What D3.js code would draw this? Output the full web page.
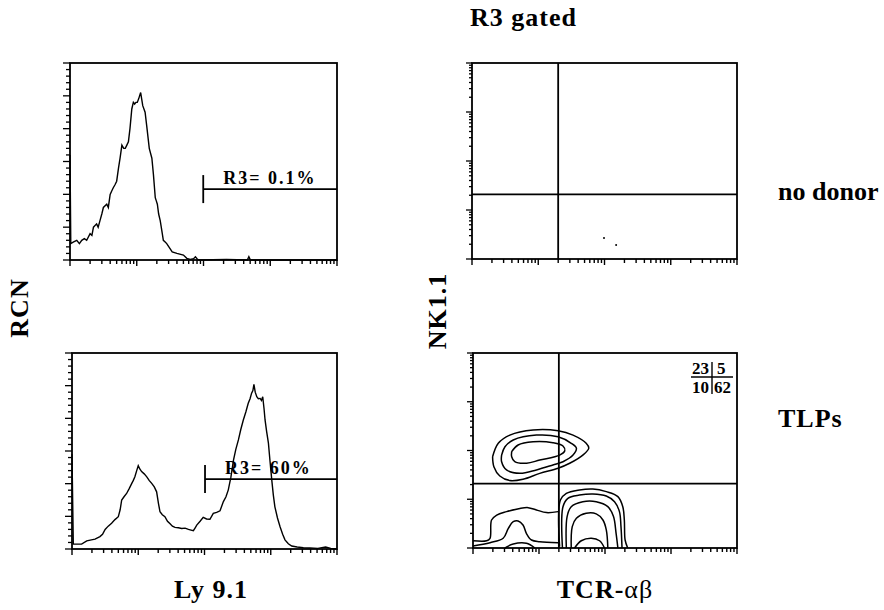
<!DOCTYPE html>
<html>
<head>
<meta charset="utf-8">
<script src="https://cdn.jsdelivr.net/npm/d3@7"></script>
<style>
  body { margin: 0; background: #fff; }
  svg { display: block; font-family: "Liberation Serif", "Times New Roman", serif; font-weight: bold; }
</style>
</head>
<body>
<svg id="chart" width="884" height="610"></svg>
<script>
// histogram data: [channel (0-1023, 4 log decades), relative cell number]
const histNoDonor = [
  [0, 32], [3, 5], [14, 5.5], [26, 6], [36, 5], [45, 6], [55, 6.5], [64, 6], [77, 8], [84, 7.5], [90, 10],
  [102, 11], [108, 10], [115, 12], [122, 14], [128, 16], [141, 17], [147, 16], [154, 20], [160, 21],
  [166, 22], [173, 23], [179, 24], [186, 28], [192, 31], [199, 35], [206, 34], [212, 34], [218, 35],
  [224, 36], [230, 40], [237, 46], [243, 48], [248, 47.5], [253, 48], [258, 48], [263, 49], [271, 51],
  [275, 49], [279, 47], [288, 45], [294, 41], [304, 34], [314, 31], [320, 26], [327, 19], [331, 18],
  [335, 17], [340, 14], [346, 12], [352, 9], [358, 6], [365, 5.5], [371, 5], [392, 2.5], [410, 2],
  [435, 1.5], [448, 0.5], [461, 0.2], [474, 0.4], [481, 1], [488, 0.3], [494, 0], [600, 0.2], [680, 0],
  [686, 1], [692, 0], [1023, 0]
];
const histTLP = [
  [0, 29], [5, 1.5], [37, 1.5], [57, 2.5], [75, 2.8], [89, 3], [108, 3.8], [118, 4.5], [128, 6], [140, 7],
  [153, 7.9], [166, 9], [179, 9.9], [186, 12], [192, 15], [201, 16], [211, 17], [221, 18.5], [231, 20.1],
  [237, 21], [243, 22.1], [250, 24], [256, 25.5], [262, 24.5], [269, 23.7], [279, 23], [289, 22.1],
  [298, 21], [308, 20.1], [318, 19], [327, 17.5], [334, 14], [340, 11.4], [349, 10.5], [359, 9.9],
  [369, 8.5], [379, 7.7], [388, 7], [398, 6.6], [411, 6.5], [424, 6.3], [437, 6.4], [450, 6],
  [460, 5.8], [469, 5.6], [476, 6.5], [482, 7.3], [495, 8.5], [507, 9.7], [520, 9.2], [533, 9.1],
  [546, 10.9], [559, 11.2], [572, 11.7], [585, 14.5], [595, 16], [604, 18.1], [614, 22], [624, 27.2],
  [633, 30.5], [643, 33.4], [652, 36.5], [662, 39.5], [672, 42], [681, 44.6], [688, 46], [694, 47.7],
  [699, 48.5], [703, 50.4], [708, 48], [714, 46.6], [720, 46], [727, 46.1], [732, 45.5], [737, 46.6],
  [742, 43], [746, 39.5], [752, 36], [759, 32.4], [765, 27], [772, 21.1], [778, 16.5], [784, 12.9],
  [794, 9.5], [804, 6.8], [814, 4.5], [823, 2.8], [836, 1.6], [849, 0.9], [870, 0.6], [894, 0.4],
  [920, 0.3], [950, 0.2], [980, 0.6], [1000, 0.2], [1023, 0]
];
const gateLabels = ["R3= 0.1%", "R3= 60%"];
const gateStart = [511, 514];      // channel
const gateLevel = [21.6, 21.4];    // cell number

// dot plot / contour data: [TCR-ab channel, NK1.1 channel]
const quadX = 333, quadY = 338;
const quadPercents = [23, 5, 10, 62];
const noDonorDots = [[510, 110], [557, 73]];
const tlpContours = [
  // NK1.1+ TCR- cluster
  [[76, 479], [98, 550], [143, 593], [233, 620], [330, 616], [388, 593], [439, 550], [449, 524], [426, 488],
   [375, 445], [330, 419], [259, 392], [194, 361], [143, 354], [104, 378], [81, 427], [76, 479]],
  [[111, 488], [124, 532], [156, 567], [246, 593], [330, 584], [381, 550], [401, 524], [388, 488],
   [349, 453], [310, 436], [246, 410], [182, 392], [130, 410], [111, 453], [111, 488]],
  [[150, 506], [175, 541], [233, 558], [310, 553], [349, 536], [356, 511], [336, 488], [259, 462],
   [208, 445], [162, 453], [150, 479], [150, 506]],
  // double negative cluster
  [[0, 38], [53, 38], [66, 51], [72, 147], [92, 173], [130, 191], [182, 208], [214, 212], [246, 200],
   [285, 186], [330, 191]],
  [[0, 11], [66, 28], [117, 51], [137, 103], [156, 138], [175, 142], [194, 121], [207, 77], [227, 42],
   [259, 33], [330, 28]],
  [[124, 0], [156, 21], [207, 25], [240, 0]],
  // TCR+ NK1.1- cluster
  [[336, 7], [339, 252], [362, 287], [413, 305], [465, 310], [517, 296], [562, 270], [581, 217],
   [587, 147], [590, 42], [600, 0]],
  [[347, 0], [349, 217], [368, 261], [413, 278], [465, 284], [517, 273], [549, 243], [568, 191],
   [574, 112], [578, 0]],
  [[362, 0], [365, 165], [381, 217], [426, 243], [478, 243], [523, 217], [545, 165], [555, 77], [562, 0]],
  [[381, 0], [385, 112], [401, 156], [439, 182], [478, 179], [504, 147], [517, 95], [523, 0]],
  [[394, 0], [420, 38], [459, 51], [491, 38], [510, 0]]
];

const svg = d3.select("#chart");

// log-decade tick positions in channel units
const logTicks = [];
for (let d = 0; d < 4; d++) {
  for (let k = 1; k < 10; k++) logTicks.push({ ch: 256 * (d + Math.log10(k)), major: k === 1 });
}
logTicks.push({ ch: 1024, major: true });

function panel(box) {
  const g = svg.append("g");
  const x = d3.scaleLinear().domain([0, 1024]).range([box.l, box.r]);
  g.append("rect")
    .attr("x", box.l).attr("y", box.t)
    .attr("width", box.r - box.l).attr("height", box.b - box.t)
    .attr("fill", "none").attr("stroke", "#000").attr("stroke-width", 1.8);
  g.selectAll(".xt").data(logTicks).join("line")
    .attr("x1", d => x(d.ch)).attr("x2", d => x(d.ch))
    .attr("y1", box.b).attr("y2", d => box.b + (d.major ? 6 : 4))
    .attr("stroke", "#000").attr("stroke-width", 1.4);
  return { g, x };
}

function histPanel(box, data, gi) {
  const { g, x } = panel(box);
  const y = d3.scaleLinear().domain([0, 60]).range([box.b, box.t]);
  const yt = d3.range(0, 61, 2);
  g.selectAll(".yt").data(yt).join("line")
    .attr("x1", d => box.l - (d % 10 === 0 ? 7 : 4)).attr("x2", box.l)
    .attr("y1", d => y(d)).attr("y2", d => y(d))
    .attr("stroke", "#000").attr("stroke-width", 1.3);
  g.append("path")
    .datum(data)
    .attr("d", d3.line().x(d => x(d[0])).y(d => y(d[1])))
    .attr("fill", "none").attr("stroke", "#000").attr("stroke-width", 1.4);
  // gate marker
  const gx = x(gateStart[gi]), gy = y(gateLevel[gi]);
  g.append("line").attr("x1", gx).attr("x2", gx).attr("y1", gy - 14).attr("y2", gy + 14)
    .attr("stroke", "#000").attr("stroke-width", 1.8);
  g.append("line").attr("x1", gx).attr("x2", box.r).attr("y1", gy).attr("y2", gy)
    .attr("stroke", "#000").attr("stroke-width", 1.6);
  g.append("text").attr("x", gx + 20).attr("y", gy - 5)
    .attr("font-size", 18).attr("letter-spacing", 2).text(gateLabels[gi]);
}

function dotPanel(box) {
  const { g, x } = panel(box);
  const y = d3.scaleLinear().domain([0, 1024]).range([box.b, box.t]);
  g.selectAll(".yt").data(logTicks).join("line")
    .attr("x1", d => box.l - (d.major ? 6 : 3)).attr("x2", box.l)
    .attr("y1", d => y(d.ch)).attr("y2", d => y(d.ch))
    .attr("stroke", "#000").attr("stroke-width", 1.3);
  g.append("line").attr("x1", x(quadX)).attr("x2", x(quadX)).attr("y1", box.t).attr("y2", box.b)
    .attr("stroke", "#000").attr("stroke-width", 1.8);
  g.append("line").attr("x1", box.l).attr("x2", box.r).attr("y1", y(quadY)).attr("y2", y(quadY))
    .attr("stroke", "#000").attr("stroke-width", 1.8);
  return { g, x, y };
}

histPanel({ l: 70, r: 337, t: 63, b: 260 }, histNoDonor, 0);
histPanel({ l: 72, r: 337, t: 353, b: 549 }, histTLP, 1);

const dotTop = dotPanel({ l: 472, r: 737, t: 63, b: 259 });
dotTop.g.selectAll("circle").data(noDonorDots).join("circle")
  .attr("cx", d => dotTop.x(d[0])).attr("cy", d => dotTop.y(d[1])).attr("r", 1).attr("fill", "#000");

const dotBot = dotPanel({ l: 473, r: 737, t: 353, b: 548 });
dotBot.g.selectAll(".ct").data(tlpContours).join("path")
  .attr("d", d3.line().x(d => dotBot.x(d[0])).y(d => dotBot.y(d[1])).curve(d3.curveCatmullRom))
  .attr("fill", "none").attr("stroke", "#000").attr("stroke-width", 1.5);

// quadrant percentages
const q = dotBot.g.append("g").attr("font-size", 17);
q.append("text").attr("x", 709).attr("y", 374).attr("text-anchor", "end").text(quadPercents[0]);
q.append("text").attr("x", 717).attr("y", 374).text(quadPercents[1]);
q.append("text").attr("x", 709).attr("y", 393).attr("text-anchor", "end").text(quadPercents[2]);
q.append("text").attr("x", 714).attr("y", 393).text(quadPercents[3]);
q.append("line").attr("x1", 691).attr("x2", 733).attr("y1", 377).attr("y2", 377).attr("stroke", "#000").attr("stroke-width", 1.4);
q.append("line").attr("x1", 712).attr("x2", 712).attr("y1", 362).attr("y2", 394).attr("stroke", "#000").attr("stroke-width", 1.4);

// titles and axis labels
const lab = svg.append("g").attr("font-size", 26);
lab.append("text").attr("x", 470).attr("y", 26).attr("letter-spacing", 1).text("R3 gated");
lab.append("text").attr("x", 778).attr("y", 200).text("no donor");
lab.append("text").attr("x", 778).attr("y", 427).attr("letter-spacing", 1).text("TLPs");
lab.append("text").attr("x", 211).attr("y", 598).attr("text-anchor", "middle").attr("letter-spacing", 1).text("Ly 9.1");
const tcr = lab.append("text").attr("x", 605).attr("y", 598).attr("text-anchor", "middle").attr("letter-spacing", 1);
tcr.append("tspan").text("TCR-");
tcr.append("tspan").attr("font-weight", "normal").text("αβ");
lab.append("text").attr("transform", "translate(28,308) rotate(-90)").attr("text-anchor", "middle").attr("letter-spacing", 1).text("RCN");
lab.append("text").attr("transform", "translate(446,311) rotate(-90)").attr("text-anchor", "middle").attr("letter-spacing", 1).text("NK1.1");
</script>
</body>
</html>
